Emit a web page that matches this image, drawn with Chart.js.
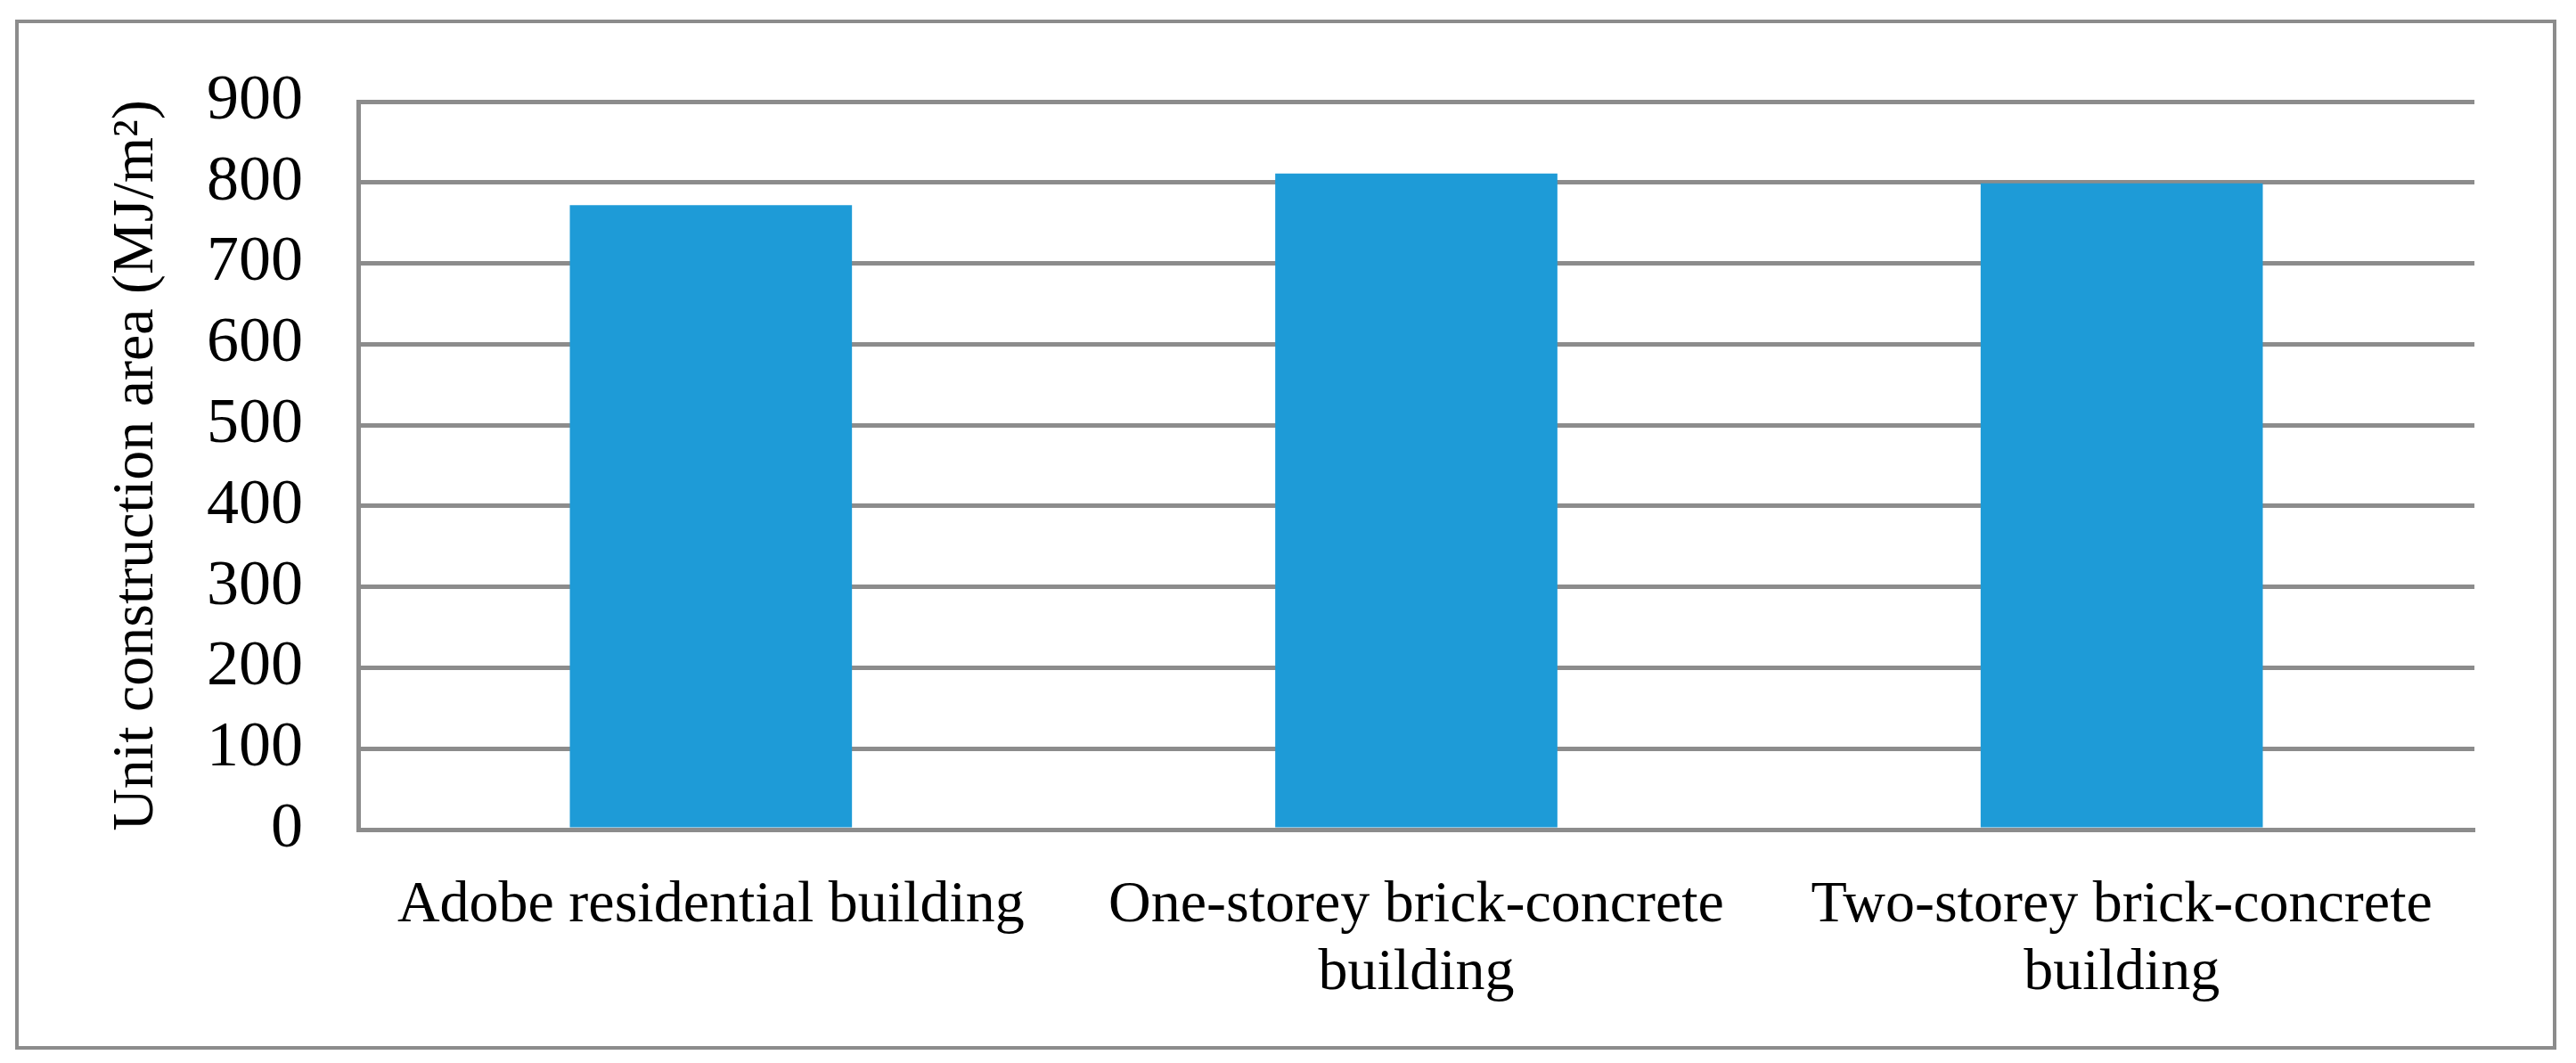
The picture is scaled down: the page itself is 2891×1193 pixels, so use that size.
<!DOCTYPE html>
<html>
<head>
<meta charset="utf-8">
<script src="https://cdn.jsdelivr.net/npm/chart.js@4/dist/chart.umd.min.js"></script>
<style>
  html, body { margin: 0; padding: 0; background: #ffffff; }
  #frame {
    position: absolute;
    left: 17px; top: 22px;
    width: 2844px; height: 1148px;
    border: 4px solid #8c8c8c;
  }
  #myChart { display: block; }
</style>
</head>
<body>
<div id="frame"><canvas id="myChart" width="2844" height="1148"></canvas></div>
<script>
// chart data
var categories = [
    'Adobe residential building',
    ['One-storey brick-concrete', 'building'],
    ['Two-storey brick-concrete', 'building']
];
var energyValues = [772, 811, 799];
var yMin = 0;
var yMax = 900;
var yStep = 100;
var yTitle = 'Unit construction area (MJ/m\u00b2)';

var gridGray = '#8c8c8c';
var serif = "'Liberation Serif', 'Times New Roman', serif";

var ctx = document.getElementById('myChart').getContext('2d');

var myChart = new Chart(ctx, {
    type: 'bar',
    data: {
        labels: categories,
        datasets: [{
            label: 'Energy',
            backgroundColor: '#1e9bd7',
            borderWidth: 0,
            data: energyValues,
            categoryPercentage: 0.8,
            barPercentage: 0.5
        }]
    },
    options: {
        responsive: false,
        animation: false,
        layout: {
            padding: { left: 0, right: 88, top: 88, bottom: 0 }
        },
        plugins: {
            legend: { display: false },
            tooltip: { enabled: false }
        },
        scales: {
            x: {
                grid: { display: false },
                border: { display: true, color: gridGray, width: 5 },
                ticks: {
                    color: '#000000',
                    font: { family: serif, size: 66, lineHeight: 1.15 },
                    padding: 40,
                    maxRotation: 0,
                    autoSkip: false
                },
                afterFit: function (scale) {
                    scale.height = 243;
                }
            },
            y: {
                min: yMin,
                max: yMax,
                grid: { color: gridGray, lineWidth: 5, drawTicks: false },
                border: { display: true, color: gridGray, width: 5 },
                ticks: {
                    stepSize: yStep,
                    autoSkip: false,
                    color: '#000000',
                    font: { family: serif, size: 72 },
                    padding: 62
                },
                title: {
                    display: true,
                    text: yTitle,
                    color: '#000000',
                    font: { family: serif, size: 66, lineHeight: 1.2 },
                    padding: { top: 93, bottom: 0 }
                },
                afterFit: function (scale) {
                    // fixed axis width, and no extra padding above the top label
                    scale.width = 381;
                    scale.paddingTop = 0;
                    scale.paddingBottom = 0;
                }
            }
        }
    }
});
</script>
</body>
</html>
